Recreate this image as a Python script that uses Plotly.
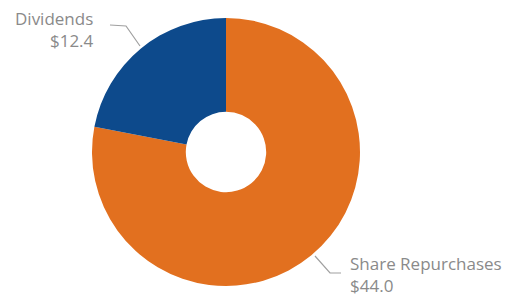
import plotly.graph_objects as go

labels = ["Dividends", "Share Repurchases"]
values = [12.4, 44.0]
colors = ["#0D4A8C", "#E2701F"]

W, H = 514, 299

def px(x):
    return x / W

def py(y):
    return 1 - y / H

cx, cy, r = 226, 152, 134

fig = go.Figure(go.Pie(
    labels=labels[::-1],
    values=values[::-1],
    hole=0.3,
    sort=False,
    direction="clockwise",
    rotation=0,
    marker=dict(colors=colors[::-1], line=dict(width=0)),
    textinfo="none",
    hoverinfo="label+value",
    showlegend=False,
    domain=dict(x=[px(cx - r), px(cx + r)], y=[py(cy + r), py(cy - r)]),
))

font = dict(family="Open Sans, sans-serif", size=17, color="#8a8a8a")

ann_text = [f"{l}<br>${v:.1f}" for l, v in zip(labels, values)]

fig.add_annotation(x=px(96), y=py(29), xref="paper", yref="paper",
                   text=ann_text[0], showarrow=False, xanchor="right", yanchor="middle",
                   align="right", font=font)
fig.add_annotation(x=px(348), y=py(274), xref="paper", yref="paper",
                   text=ann_text[1], showarrow=False, xanchor="left", yanchor="middle",
                   align="left", font=font)

line = dict(color="#a0a0a0", width=1.2)
fig.add_shape(type="path", xref="paper", yref="paper",
              path=f"M {px(110)} {py(25)} L {px(126)} {py(26)} L {px(140)} {py(46)}",
              line=line)
fig.add_shape(type="path", xref="paper", yref="paper",
              path=f"M {px(315)} {py(256)} L {px(330)} {py(273)} L {px(341)} {py(273)}",
              line=line)

fig.update_layout(width=W, height=H, margin=dict(l=0, r=0, t=0, b=0),
                  paper_bgcolor="white", plot_bgcolor="white")

fig.write_html("out.html", config={"displayModeBar": False},
               post_script="document.body.style.margin='0';")
